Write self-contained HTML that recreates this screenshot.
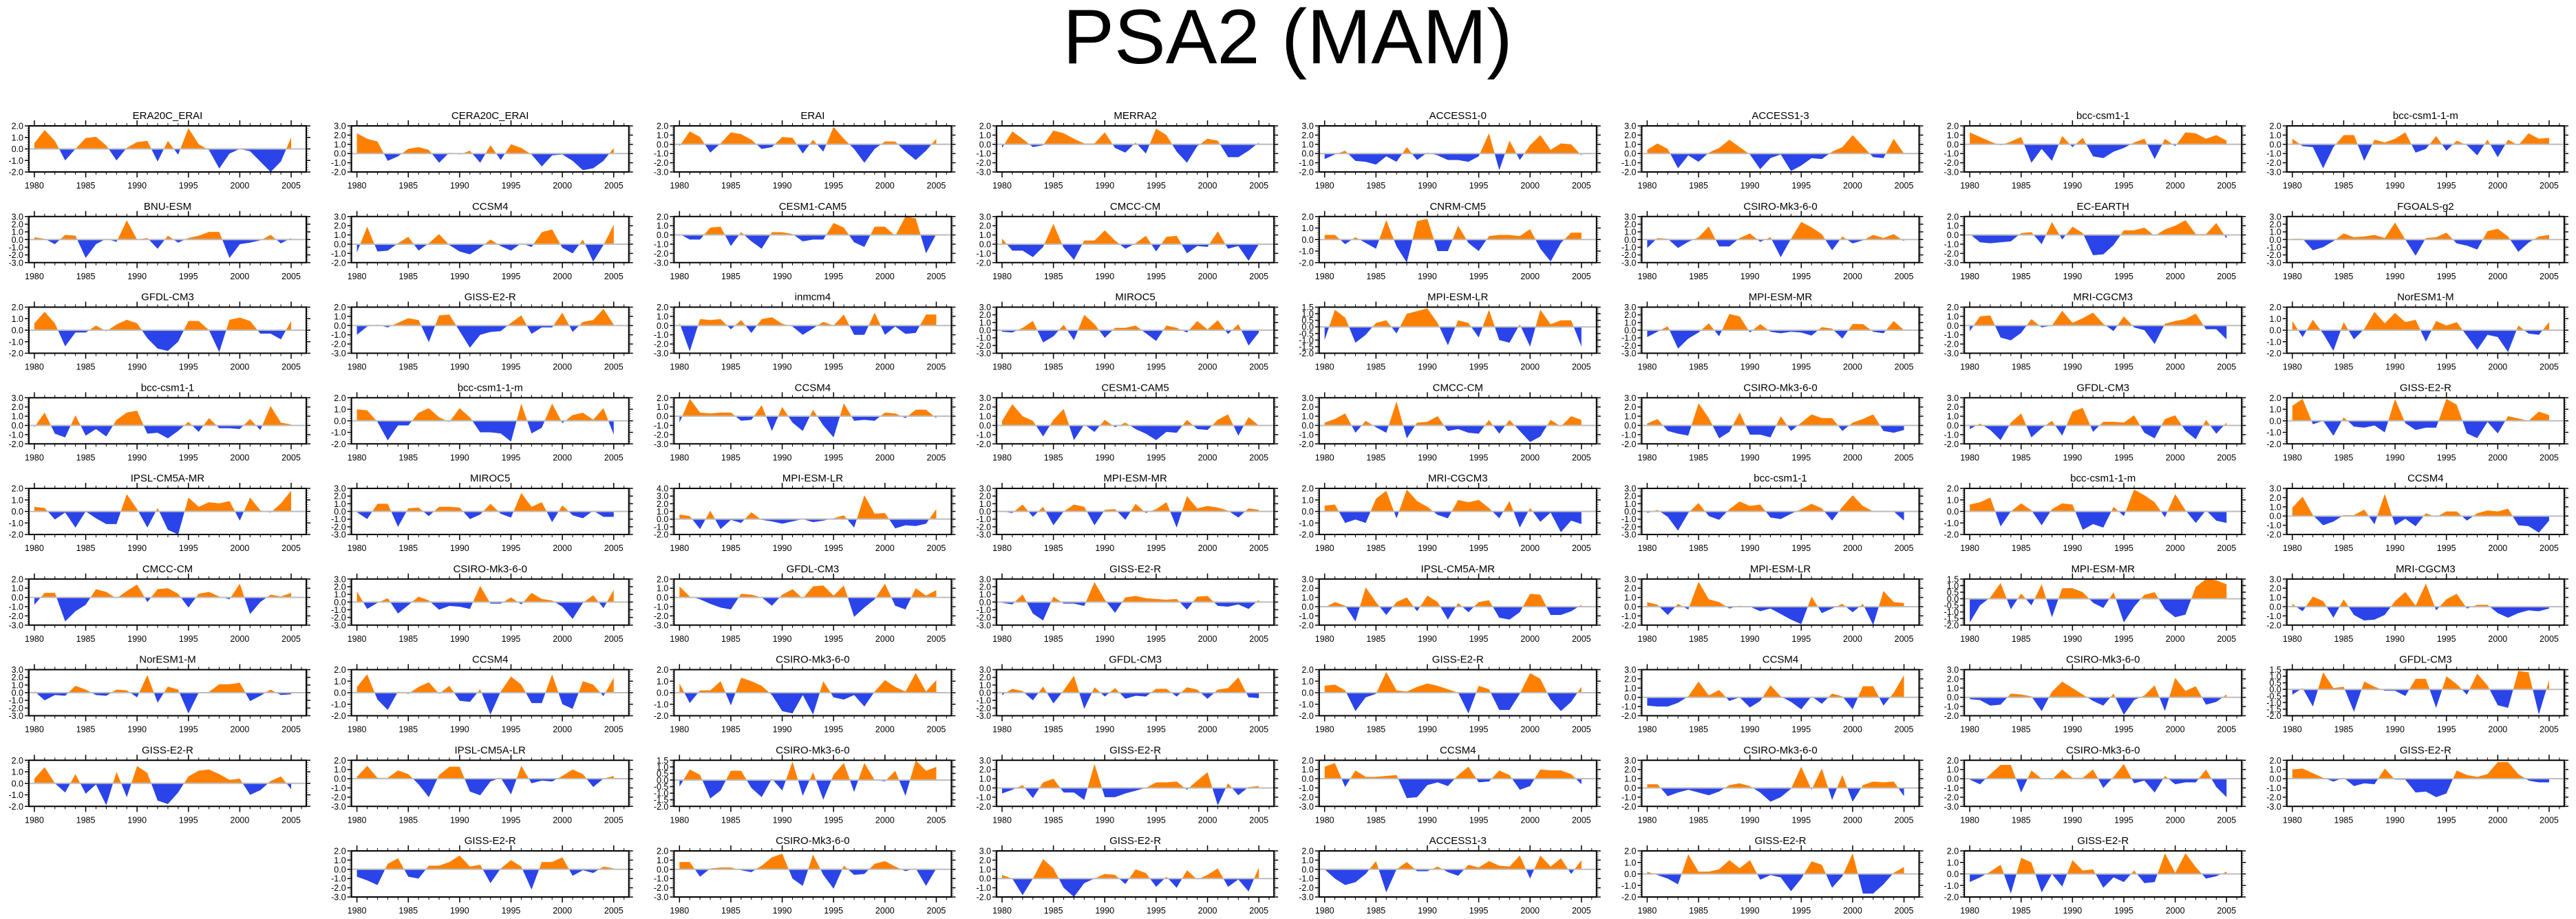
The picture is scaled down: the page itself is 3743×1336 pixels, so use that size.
<!DOCTYPE html>
<html><head><meta charset="utf-8">
<style>
html,body{margin:0;padding:0;background:#fff;}
svg{display:block;font-family:"Liberation Sans",sans-serif;}
</style></head>
<body>
<svg id="fig" width="3743" height="1336" viewBox="0 0 3743 1336" xmlns="http://www.w3.org/2000/svg">
<rect width="3743" height="1336" fill="#fff"/>
<text x="1871" y="92" font-size="112" text-anchor="middle" fill="#000">PSA2 (MAM)</text>
<g id="panels"></g>
</svg>
<script>
const years=[1980,1981,1982,1983,1984,1985,1986,1987,1988,1989,1990,1991,1992,1993,1994,1995,1996,1997,1998,1999,2000,2001,2002,2003,2004,2005];
const xTickLabels=[1980,1985,1990,1995,2000,2005];
const titles=["ERA20C_ERAI","CERA20C_ERAI","ERAI","MERRA2","ACCESS1-0","ACCESS1-3","bcc-csm1-1","bcc-csm1-1-m",
"BNU-ESM","CCSM4","CESM1-CAM5","CMCC-CM","CNRM-CM5","CSIRO-Mk3-6-0","EC-EARTH","FGOALS-g2",
"GFDL-CM3","GISS-E2-R","inmcm4","MIROC5","MPI-ESM-LR","MPI-ESM-MR","MRI-CGCM3","NorESM1-M",
"bcc-csm1-1","bcc-csm1-1-m","CCSM4","CESM1-CAM5","CMCC-CM","CSIRO-Mk3-6-0","GFDL-CM3","GISS-E2-R",
"IPSL-CM5A-MR","MIROC5","MPI-ESM-LR","MPI-ESM-MR","MRI-CGCM3","bcc-csm1-1","bcc-csm1-1-m","CCSM4",
"CMCC-CM","CSIRO-Mk3-6-0","GFDL-CM3","GISS-E2-R","IPSL-CM5A-MR","MPI-ESM-LR","MPI-ESM-MR","MRI-CGCM3",
"NorESM1-M","CCSM4","CSIRO-Mk3-6-0","GFDL-CM3","GISS-E2-R","CCSM4","CSIRO-Mk3-6-0","GFDL-CM3",
"GISS-E2-R","IPSL-CM5A-LR","CSIRO-Mk3-6-0","GISS-E2-R","CCSM4","CSIRO-Mk3-6-0","CSIRO-Mk3-6-0","GISS-E2-R",
"GISS-E2-R","CSIRO-Mk3-6-0","GISS-E2-R","ACCESS1-3","GISS-E2-R","GISS-E2-R"];
const yMin=[-2,-2,-3,-3,-2,-2,-3,-3, -3,-2,-3,-2,-2,-3,-3,-3, -2,-3,-3,-3,-2,-3,-3,-2, -2,-2,-3,-2,-2,-2,-2,-2,
-2,-3,-2,-3,-2,-3,-2,-2, -3,-3,-3,-3,-2,-2,-2,-2, -3,-2,-2,-3,-2,-2,-2,-2, -2,-3,-2,-2,-3,-2,-3,-3, -3,-3,-2,-3,-2,-2];
const yMax=[2,3,2,2,3,3,2,2, 3,3,2,3,2,3,2,3, 2,2,2,3,1.5,3,2,2, 3,2,2,3,3,3,3,2,
2,3,4,3,2,3,2,3, 2,3,2,3,3,3,1.5,3, 3,2,2,3,2,3,3,1.5, 2,2,1.5,3,2,3,2,2, 2,2,3,2,2,2];
const v01=[0.5,1.65,0.7,-1.0,0.0,0.95,1.05,0.3,-1.0,0.1,0.6,0.7,-1.1,0.7,-0.5,1.8,0.4,-0.1,-1.7,-0.4,0.0,-0.2,-1.1,-2.0,-1.1,1.0];
const v02=[2.2,1.6,1.3,-0.8,-0.3,0.5,0.7,0.4,-1.0,0.1,-0.1,0.3,-1.0,0.9,-0.7,1.0,0.6,-0.1,-1.4,-0.2,-0.1,-0.8,-1.8,-1.6,-0.8,0.6];
const v03=[-0.2,1.4,0.8,-0.9,0.1,1.3,1.1,0.5,-0.5,-0.3,0.8,0.7,-1.0,0.5,-0.8,1.9,0.6,-0.5,-2.0,-0.5,0.3,0.3,-0.8,-1.7,-0.7,0.6];
const v04=[-0.4,1.4,0.6,-0.3,-0.1,1.5,1.2,0.6,0.1,0.1,1.3,-0.4,-0.9,0.2,-1.0,1.7,1.0,-0.8,-2.0,-0.2,0.6,0.4,-1.4,-1.4,-0.7,0.2];
const v05=[-0.6,-0.1,0.3,-0.8,-0.9,-1.2,-0.3,-0.9,0.7,-0.7,0.1,-0.2,-0.7,-0.7,-0.9,-0.3,2.2,-1.8,1.4,-0.7,0.9,2.0,0.4,1.1,1.0,-0.2];
const v06=[0.4,1.1,0.5,-1.6,-0.2,-0.9,0.1,0.6,1.5,0.7,-0.1,-1.7,-0.5,-0.1,-1.9,-1.3,-0.5,-0.6,0.2,0.7,2.0,0.8,-0.4,-0.5,1.6,0.0];
const v07=[1.3,0.8,0.3,-0.1,0.3,0.8,-2.0,-0.5,-1.8,0.9,-0.3,0.7,-1.3,-1.5,-0.8,-0.4,0.2,0.6,-1.6,0.6,-0.2,1.3,1.2,0.6,1.0,0.4];
const v08=[0.6,-0.2,-0.3,-2.6,-0.3,1.0,1.0,-1.8,0.5,0.2,0.6,1.3,-0.9,-0.5,0.9,-0.7,0.4,-0.1,-1.2,0.5,-1.4,0.5,-0.1,1.2,0.6,0.7];
const v09=[0.3,0.1,-0.6,0.6,0.5,-2.4,-0.6,0.1,-0.3,2.5,0.0,0.2,-1.2,0.5,-0.4,0.2,0.5,1.0,1.0,-2.4,-0.6,-0.4,-0.1,0.6,-0.5,0.2];
const v10=[-0.9,1.9,-0.8,-0.7,0.1,0.8,-0.7,0.1,1.1,-0.1,-0.8,-1.1,-0.4,0.5,-0.2,-0.7,0.1,-0.3,1.3,1.6,-0.4,-1.0,0.5,-1.9,-0.1,2.1];
const v11=[0.1,-0.5,-0.5,0.8,0.9,-1.2,0.3,-0.7,-1.5,0.3,0.3,0.1,-0.7,-0.5,-0.5,1.3,0.8,-0.8,-1.3,0.9,0.9,-0.1,2.0,1.8,-2.0,0.1];
const v12=[0.6,-0.7,-0.7,-1.4,-0.3,2.2,-0.4,-1.7,0.4,0.4,1.5,0.4,-0.5,0.1,0.9,-0.8,0.8,0.9,-1.0,-0.2,-0.3,1.4,-0.5,-0.2,-1.8,0.0];
const v13=[0.4,0.4,-0.4,0.2,-0.3,-0.8,1.7,-0.6,-2.0,1.6,1.8,-1.0,-1.0,1.2,-0.3,-1.0,0.3,0.4,0.4,0.3,0.9,-0.8,-1.9,-0.3,0.6,0.6];
const v14=[-1.1,0.2,0.1,-1.1,-0.3,0.3,1.7,-0.9,-0.9,0.2,0.8,-0.3,0.3,-2.3,0.1,2.3,1.6,0.7,-1.4,0.4,-0.5,-0.1,0.6,0.2,0.7,-0.2];
const v15=[0.1,-0.8,-0.9,-0.8,-0.7,0.2,0.3,-1.0,1.4,-0.5,0.9,0.2,-2.2,-2.1,-1.1,0.5,0.5,0.8,-0.1,0.6,1.0,1.6,0.1,0.1,1.3,-0.4];
const v16=[0.1,0.1,-1.4,-1.0,-0.2,0.8,0.3,0.4,0.6,0.2,2.2,0.0,-2.1,0.2,0.3,0.9,-0.5,-0.8,-1.3,1.1,1.4,0.4,-1.6,-0.4,0.4,0.6];
const v17=[0.6,1.6,0.6,-1.4,-0.2,-0.2,0.4,-0.1,0.5,0.9,0.6,-0.7,-1.6,-1.8,-1.0,0.8,0.8,0.0,-1.9,0.9,1.1,0.8,-0.3,-0.3,-0.8,0.8];
const v18=[-1.0,-0.1,0.1,-0.2,0.3,0.8,0.6,-1.8,1.1,1.2,-0.6,-2.4,-1.0,-0.7,-0.6,0.3,1.1,-0.9,-0.2,-0.2,1.4,-0.7,0.4,0.6,1.8,0.1];
const v19=[0.3,-2.8,0.7,0.6,0.7,-0.4,0.6,-0.8,0.7,0.9,0.2,-0.1,-1.0,-0.3,0.4,0.0,1.2,-1.0,-1.0,1.4,-1.0,-0.1,-0.9,-0.8,1.2,1.2];
const v20=[-0.2,-0.3,0.3,1.2,-1.6,-0.8,0.7,-1.3,2.0,0.8,-1.0,0.3,0.3,0.6,-0.4,-1.4,0.6,0.3,-0.3,1.2,0.1,1.3,-0.5,0.8,-2.0,-0.3];
const v21=[-1.0,1.3,0.7,-1.2,-0.6,0.3,0.5,-0.5,1.0,1.2,1.4,0.3,-1.4,0.5,0.3,-0.8,1.3,-1.0,-1.2,0.2,-1.5,1.3,0.2,0.5,0.5,-1.5];
const v22=[-0.9,-0.2,0.5,-2.4,-1.1,-0.3,0.9,-0.8,2.1,1.8,-0.3,0.8,-0.2,-0.4,-0.2,-0.3,-0.7,0.4,0.2,-1.1,0.8,0.8,-0.2,-0.4,1.2,0.0];
const v23=[-0.6,1.0,1.1,-1.3,-1.6,-0.8,0.7,-0.2,0.0,1.6,0.3,0.8,1.4,0.2,-0.6,1.0,-0.2,-0.5,-2.0,0.2,0.5,0.7,1.3,-0.4,-0.4,-1.5];
const v24=[0.8,-0.6,0.9,-0.3,-1.8,0.7,-0.8,0.1,1.6,0.6,1.5,0.7,0.9,-1.0,0.8,0.4,0.7,-0.5,-1.7,-0.4,-0.6,-1.9,0.4,-0.3,-0.4,0.7];
const v25=[-0.2,1.4,-0.9,-1.3,1.1,-1.1,-0.4,-1.2,0.6,1.4,1.6,-0.9,-0.8,-1.4,-0.6,0.4,-0.7,0.8,-0.3,-0.3,-0.4,0.7,-0.5,2.1,0.3,0.1];
const v26=[1.0,0.9,-0.1,-1.7,-0.4,-0.4,0.7,1.1,0.3,-0.1,1.1,0.3,-1.0,-1.0,-1.1,-1.8,1.5,-1.1,-0.6,1.5,-0.2,0.5,0.7,0.1,1.1,-1.2];
const v27=[-0.7,1.9,0.4,0.3,0.4,0.4,-0.5,-0.4,1.2,-1.6,1.0,-0.7,-1.6,0.7,-1.0,-2.3,1.4,-0.5,-0.4,-0.5,0.4,0.3,-0.2,0.7,0.7,-0.2];
const v28=[0.5,2.3,1.0,0.5,-1.2,0.6,1.8,-1.6,0.1,-0.7,0.6,-0.2,0.3,-0.4,-0.9,-1.6,-0.7,-0.8,0.6,-0.4,-0.5,0.6,1.2,-1.1,0.9,0.0];
const v29=[0.3,0.7,1.3,-0.8,0.5,-0.2,-0.8,2.6,-1.4,0.3,0.4,1.0,-0.6,-0.4,-0.8,-0.9,0.6,-0.9,0.6,-0.6,-1.8,-1.2,0.6,-0.1,1.0,0.6];
const v30=[0.2,0.7,-0.6,-0.9,-1.1,2.4,0.8,-1.4,-0.7,1.4,-1.0,-1.0,-1.3,1.0,-0.6,0.3,1.2,0.8,0.8,-0.6,0.3,0.7,1.2,-0.6,-0.8,-0.5];
const v31=[-0.4,0.2,-0.5,-1.6,0.3,1.3,-1.3,-0.3,0.5,-1.1,1.5,1.9,-0.7,0.4,0.4,0.3,1.1,-0.8,-1.4,0.7,1.1,-0.6,-1.5,0.6,-0.9,0.3];
const v32=[1.3,1.9,-0.3,0.0,-1.3,0.3,-0.5,-0.6,-0.4,-1.0,1.9,-0.2,-0.8,-0.6,-0.6,1.9,1.4,-1.1,-1.5,-0.1,-1.1,0.4,0.2,0.0,0.8,0.5];
const v33=[0.4,0.3,-0.7,-0.1,-1.4,0.0,-0.6,-1.1,-1.1,1.5,0.2,-1.4,0.3,-1.6,-2.0,1.2,0.4,0.8,0.7,0.9,-0.8,1.2,0.1,-0.1,0.7,1.8];
const v34=[-0.1,-1.0,1.0,1.0,-2.0,0.4,0.5,-0.6,0.6,0.6,0.5,-1.0,-0.4,1.0,-0.3,-0.8,2.4,0.6,1.2,-1.4,0.8,-0.5,-0.9,0.1,-0.7,-0.7];
const v35=[0.6,0.4,-1.3,1.1,-1.3,-0.1,-0.5,0.9,-0.1,-0.3,-0.6,-0.3,0.0,-0.4,-0.2,0.1,0.5,-1.1,3.1,0.7,0.8,-1.2,-0.8,-0.9,-0.6,1.3];
const v36=[0.0,-0.2,0.9,-0.7,0.6,-1.8,0.0,0.9,0.6,-1.8,0.2,0.3,-1.1,1.0,-0.2,0.3,1.2,-2.1,2.0,0.4,0.7,0.5,0.1,-0.8,0.4,0.2];
const v37=[0.5,0.6,-1.0,-0.7,-1.0,1.1,1.8,-0.6,1.9,0.9,0.4,-0.3,-0.6,1.0,0.8,1.0,0.3,-0.6,0.9,-1.4,0.3,-0.9,-0.1,-1.8,-0.8,-1.1];
const v38=[-0.2,0.2,-0.7,-2.5,-0.2,1.1,-0.6,-1.1,0.3,1.3,0.7,0.9,-0.8,-1.0,-0.3,0.3,1.0,0.4,-1.2,0.6,2.1,0.7,0.0,0.1,0.0,-1.2];
const v39=[0.6,0.8,1.2,-1.3,0.0,0.7,0.1,-1.2,0.2,0.7,0.6,-1.6,-1.1,-1.4,0.4,-0.4,1.9,1.4,0.8,-0.5,1.5,0.1,-1.0,0.1,-0.8,-1.0];
const v40=[0.9,2.1,0.1,-1.0,-0.6,0.1,0.1,0.7,-0.9,2.4,-1.0,-0.3,-1.1,0.3,-0.1,0.5,0.5,-0.5,0.3,0.6,0.5,0.8,-1.0,-1.1,-1.8,-0.5];
const v41=[-0.8,0.5,0.5,-2.6,-1.5,-0.8,0.9,0.6,-0.1,0.7,1.4,-0.5,0.9,1.0,0.4,-1.1,0.4,0.6,0.1,-0.2,1.5,-1.8,-0.5,0.3,0.1,0.5];
const v42=[1.4,-0.9,-0.1,0.5,-1.5,-0.4,0.7,0.2,-1.0,-0.5,-0.6,-0.9,2.1,-0.2,-0.2,0.6,-0.3,1.2,0.4,0.2,-0.6,-2.2,-0.1,0.9,-0.8,1.6];
const v43=[1.2,0.1,-0.2,-0.7,-1.1,-1.3,0.4,0.3,0.0,-0.9,0.3,0.9,-0.1,1.2,1.3,0.2,1.3,-2.1,-1.1,-0.2,1.5,-0.9,-1.3,1.0,0.2,0.8];
const v44=[-0.1,-0.3,1.0,-1.5,-2.4,0.7,-0.2,-0.2,-0.5,2.6,0.3,-1.4,0.6,0.8,0.5,0.4,0.3,0.4,-1.0,0.7,0.8,-0.5,-0.6,-0.3,-0.9,0.3];
const v45=[-0.1,0.5,0.1,-1.6,2.1,0.5,-0.9,0.5,1.0,-0.5,1.2,0.5,-1.4,0.4,-0.6,0.5,0.7,-1.2,-1.4,-0.6,1.4,1.3,-0.9,-0.9,-0.5,0.2];
const v46=[0.5,0.2,-0.9,0.3,-0.3,2.7,0.8,0.5,-0.2,0.1,0.0,-0.5,-0.2,-0.8,-1.4,-1.9,1.1,-0.7,-0.2,0.3,-0.6,0.3,-2.0,1.7,0.5,0.4];
const v47=[-1.8,-0.5,0.1,1.2,-0.8,0.4,-0.5,1.1,-1.4,0.8,0.8,0.5,-0.3,-0.7,0.5,-1.8,-0.6,0.3,0.5,-0.8,-1.4,-1.2,0.9,1.5,1.4,1.1];
const v48=[0.3,-0.5,1.1,0.6,-1.2,0.8,-0.9,-1.5,-1.4,-0.9,0.6,1.6,0.1,2.5,-0.4,0.8,1.4,-0.2,0.2,0.2,-0.7,-1.2,-0.7,-0.4,-0.5,-0.2];
const v49=[0.2,-1.0,-0.3,-0.4,0.9,0.4,-0.3,-0.4,0.4,0.3,-0.6,2.3,-1.3,0.8,0.4,-2.7,0.0,0.1,1.1,1.1,1.3,-1.1,-0.4,0.4,-0.3,-0.2];
const v50=[0.5,1.6,-0.6,-1.5,0.1,-0.1,0.5,0.9,-0.1,0.6,-0.7,-0.8,0.3,-1.9,0.1,1.4,0.7,-0.9,-0.9,1.6,-1.0,-1.4,1.0,0.7,-0.3,1.3];
const v51=[0.8,-0.9,0.2,0.2,1.0,-1.1,1.3,1.0,0.6,-0.2,-1.6,-1.8,-0.2,-1.9,1.0,-0.4,-0.6,-0.2,-1.2,0.1,1.1,0.5,0.1,1.7,0.1,1.1];
const v52=[-0.3,0.5,0.2,-1.0,0.8,-1.4,0.3,2.2,-2.1,0.7,-0.5,0.6,-0.8,-0.4,-0.5,0.5,0.5,-0.5,0.7,0.4,-0.8,0.4,0.6,2.0,-0.6,-0.7];
const v53=[0.6,0.7,0.2,-1.6,-0.4,-0.1,1.8,0.2,0.1,0.5,0.8,0.6,0.3,0.0,-1.8,0.6,0.3,-1.5,-1.5,-0.1,1.7,1.2,-0.6,-1.6,-0.8,0.5];
const v54=[-0.9,-1.0,-1.0,-0.6,0.1,1.7,0.2,0.8,-0.4,0.0,-1.1,-0.4,1.3,0.1,-0.5,-1.3,0.1,-0.7,0.4,0.1,-1.3,1.2,1.2,-0.9,0.5,2.4];
const v55=[-0.2,-0.3,-0.9,-0.8,0.4,0.3,0.1,-1.5,0.6,1.7,1.0,0.3,-0.4,-0.9,0.4,-1.9,-0.3,0.2,1.3,-1.5,2.1,0.7,1.2,-0.8,-0.5,0.3];
const v56=[-0.4,0.1,-1.3,1.3,0.1,0.2,-1.7,0.6,0.2,-0.1,-0.1,-0.5,0.8,0.8,-1.4,1.0,0.4,-0.4,1.2,0.3,-1.2,-1.4,1.4,1.3,-1.9,0.7];
const v57=[0.4,1.4,0.0,-0.8,0.8,-0.9,-0.1,-1.9,1.0,-1.2,1.5,0.9,-1.5,-1.8,-0.8,0.6,1.1,1.2,0.8,0.3,0.4,-1.0,-0.6,0.2,0.6,-0.5];
const v58=[0.2,1.4,0.1,0.1,0.9,0.5,-0.6,-2.0,0.4,1.3,1.3,-1.4,-1.8,-0.3,0.1,-1.7,1.4,-0.5,-0.2,-0.3,0.3,1.0,0.5,-0.9,0.0,0.3];
const v59=[-0.5,0.8,0.4,-1.4,-0.8,0.7,0.7,-0.6,-1.3,0.1,-0.8,1.4,-1.2,0.6,-1.5,0.4,1.3,-0.9,1.3,0.0,-0.1,0.7,-1.2,1.5,0.7,1.0];
const v60=[-0.6,-0.2,0.3,-1.1,0.6,1.0,-0.5,-0.5,-1.3,2.6,-1.0,-1.0,-0.6,-0.3,0.0,0.6,0.6,0.7,-0.2,0.8,1.7,-1.9,0.5,-0.8,0.1,0.2];
const v61=[1.3,1.7,-0.9,0.9,0.2,0.2,0.3,0.4,-2.1,-2.0,-0.7,-0.4,-0.8,0.4,1.3,-0.4,-0.3,0.9,0.4,-1.2,-0.8,1.0,0.9,0.9,0.5,-0.6];
const v62=[0.4,0.4,-0.9,-0.5,-0.2,-0.5,-0.8,-0.4,0.3,0.5,0.2,-0.5,-1.5,-1.0,-0.1,2.3,-0.2,2.1,-1.3,1.4,-1.5,0.3,0.7,0.6,0.7,-0.9];
const v63=[-0.1,-0.6,0.5,1.5,1.5,-1.5,0.9,0.0,-0.1,1.0,0.1,0.1,1.0,-1.0,0.2,1.6,-0.5,-0.2,-1.5,0.3,-0.6,-0.4,-0.4,1.0,-0.9,-2.0];
const v64=[1.0,1.1,0.6,0.1,-0.3,0.1,-0.8,-0.5,-0.6,1.1,-0.1,-0.1,-1.5,-1.4,-2.0,-1.6,0.9,0.4,0.2,0.5,1.8,1.8,0.5,-0.2,-0.4,-0.4];
const v65=[-0.8,-1.2,-1.7,0.6,1.2,-0.8,-1.0,0.4,0.4,0.8,1.5,0.3,0.5,-1.5,0.1,1.0,0.3,-2.2,0.8,0.8,1.3,-0.7,-0.1,-0.4,0.3,0.1];
const v66=[0.8,0.8,-0.8,0.1,0.2,0.2,-0.1,-0.3,0.4,1.3,1.7,-1.0,-1.8,1.6,-0.6,-2.1,0.4,-0.6,-0.5,0.6,0.9,0.3,-0.2,0.1,-1.8,0.1];
const v67=[0.4,0.0,-1.8,0.0,2.1,1.1,-1.0,-2.0,-0.5,0.0,0.5,0.4,-0.6,1.0,0.6,-0.9,0.2,-1.0,0.9,-0.1,0.4,1.1,-0.9,-0.1,-1.4,1.2];
const v68=[0.0,-1.0,-1.7,-1.4,-0.5,0.9,-2.5,0.0,0.8,-0.2,-0.2,0.3,-0.3,-0.7,0.5,0.2,0.9,0.4,0.3,1.5,-1.0,1.5,0.3,1.2,-0.5,1.0];
const v69=[0.2,-0.1,-0.4,-0.9,1.7,0.2,0.2,0.4,1.2,0.5,1.2,-0.5,-0.1,-0.3,-1.5,-0.4,1.1,0.8,-1.2,-0.2,1.8,-1.7,-1.7,-0.9,0.1,0.6];
const v70=[-0.7,-0.3,0.2,0.8,-1.7,1.4,1.0,-1.6,0.0,-1.1,1.2,0.3,0.4,-1.2,-0.3,-0.7,0.3,-0.8,-0.7,1.8,0.1,1.8,0.6,-0.4,-0.2,0.2];
const seriesList=[v01,v02,v03,v04,v05,v06,v07,v08,v09,v10,v11,v12,v13,v14,v15,v16,v17,v18,v19,v20,v21,v22,v23,v24,v25,v26,v27,v28,v29,v30,v31,v32,v33,v34,v35,v36,v37,v38,v39,v40,v41,v42,v43,v44,v45,v46,v47,v48,v49,v50,v51,v52,v53,v54,v55,v56,v57,v58,v59,v60,v61,v62,v63,v64,v65,v66,v67,v68,v69,v70];

const NS="http://www.w3.org/2000/svg";
const X0=42,DX=468.7,BW=403,Y0=183,DY=131.75,BH=67,XMIN=1979.47,XMAX=2006.47;
const root=document.getElementById('panels');
function mk(tag,attrs,parent){const e=document.createElementNS(NS,tag);for(const k in attrs)e.setAttribute(k,attrs[k]);parent.appendChild(e);return e;}

seriesList.forEach((vals,i)=>{
  const row=Math.floor(i/8);
  const col=i<64?i%8:1+(i-64);
  const L=X0+col*DX, T=Y0+row*DY, R=L+BW, B=T+BH;
  const lo=yMin[i], hi=yMax[i];
  const xs=y=>L+(y-XMIN)/(XMAX-XMIN)*BW;
  const ys=v=>T+(hi-v)/(hi-lo)*BH;
  const g=mk('g',{},root);
  
  
  const t=mk('text',{x:(L+R)/2,y:T-10,'font-size':15,'text-anchor':'middle',fill:'#000'},g);
  t.textContent=titles[i];
  
  
  // clip paths
  const y0=ys(0);
  const cpA=mk('clipPath',{id:'ca'+i},g); mk('rect',{x:L,y:T,width:BW,height:y0-T},cpA);
  const cpB=mk('clipPath',{id:'cb'+i},g); mk('rect',{x:L,y:y0,width:BW,height:B-y0},cpB);
  let d='M'+xs(years[0])+','+y0;
  vals.forEach((v,k)=>{d+=' L'+xs(years[k]).toFixed(2)+','+ys(v).toFixed(2);});
  d+=' L'+xs(years[years.length-1])+','+y0+' Z';
  const pa=mk('path',{d:d,fill:'#ff8000','clip-path':'url(#ca'+i+')'},g);
  
  
  const pb=mk('path',{d:d,fill:'#2a44ea','clip-path':'url(#cb'+i+')'},g);
  
  
  const zl=mk('line',{x1:L,x2:R,y1:y0,y2:y0,stroke:'#bdbdbd','stroke-width':2},g);
  
  
  // y ticks
  const step=(hi===1.5)?0.5:1;
  const minor=step/5;
  const nMinor=Math.round((hi-lo)/minor);
  for(let k=0;k<=nMinor;k++){
    const v=lo+k*minor, yy=ys(v);
    const major=(k%5===0);
    const len=major?6:3;
    mk('line',{x1:L-len,x2:L,y1:yy,y2:yy,stroke:major?'#000':'#666','stroke-width':major?1.5:1},g);
    mk('line',{x1:R,x2:R+len,y1:yy,y2:yy,stroke:major?'#000':'#666','stroke-width':major?1.5:1},g);
    if(major){
      const lab=mk('text',{x:L-8,y:yy+4.5,'font-size':12.5,'text-anchor':'end',fill:'#000'},g);
      lab.textContent=v.toFixed(1);
      
      
    }
  }
  // x ticks
  for(let yr=1980;yr<=2006;yr++){
    const xx=xs(yr), major=(yr%5===0);
    const len=major?8:4;
    mk('line',{x1:xx,x2:xx,y1:T-len,y2:T,stroke:'#000','stroke-width':major?1.5:1},g);
    mk('line',{x1:xx,x2:xx,y1:B,y2:B+len,stroke:'#000','stroke-width':major?1.5:1},g);
  }
  xTickLabels.forEach(yr=>{
    const lab=mk('text',{x:xs(yr),y:B+24,'font-size':12.5,'text-anchor':'middle',fill:'#000'},g);
    lab.textContent=yr;
    
    
  });
  const fr=mk('rect',{x:L,y:T,width:BW,height:BH,fill:'none',stroke:'#000','stroke-width':2},g);
  
  
});
</script>
</body></html>
